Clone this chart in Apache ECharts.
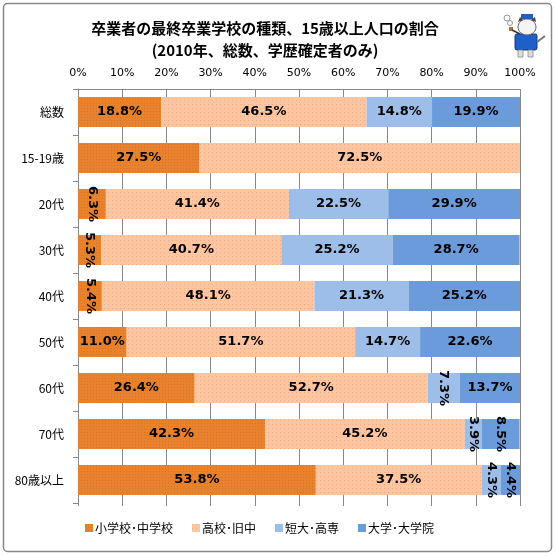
<!DOCTYPE html>
<html>
<head>
<meta charset="utf-8">
<script src="https://cdn.jsdelivr.net/npm/echarts@6/dist/echarts.min.js"></script>
<style>html,body{margin:0;padding:0;background:#fff}#c{width:556px;height:556px}</style>
</head>
<body>
<div id="c"></div>
<script>
var categories = ['総数', '15-19歳', '20代', '30代', '40代', '50代', '60代', '70代', '80歳以上'];
var seriesNames = ['小学校･中学校', '高校･旧中', '短大･高専', '大学･大学院'];
var elementary = [18.8, 27.5, 6.3, 5.3, 5.4, 11.0, 26.4, 42.3, 53.8];
var highSchool = [46.5, 72.5, 41.4, 40.7, 48.1, 51.7, 52.7, 45.2, 37.5];
var juniorCollege = [14.8, 0, 22.5, 25.2, 21.3, 14.7, 7.3, 3.9, 4.3];
var university = [19.9, 0, 29.9, 28.7, 25.2, 22.6, 13.7, 8.5, 4.4];
var tickValues = [0, 10, 20, 30, 40, 50, 60, 70, 80, 90, 100];

var colors = ['#E9822D', '#FEC6A0', '#9DBEE8', '#6B9BDB'];
var decals = [
  {symbol: 'rect', symbolSize: 1, dashArrayX: [1, 2], dashArrayY: [1, 2], color: 'rgba(190,90,20,0.35)'},
  {symbol: 'rect', symbolSize: 1, dashArrayX: [1, 3], dashArrayY: [1, 3], color: 'rgba(220,140,100,0.45)'},
  null, null
];
var seriesData = [elementary, highSchool, juniorCollege, university];

function buildData(arr) {
  return arr.map(function (v) {
    if (!v) return {value: 0, label: {show: false}};
    if (v < 9) return {value: v, label: {show: true, rotate: -90}};
    return {value: v};
  });
}

var chart = echarts.init(document.getElementById('c'), null, {renderer: 'canvas'});
var series = seriesData.map(function (arr, i) {
  var s = {
    name: seriesNames[i],
    type: 'bar',
    stack: 'total',
    barCategoryGap: '35%',
    data: buildData(arr),
    itemStyle: {color: colors[i]},
    label: {
      show: true,
      position: 'inside',
      formatter: function (p) { return p.value.toFixed(1) + '%'; },
      color: '#000',
      fontWeight: 'bold',
      fontSize: 13,
      fontFamily: 'DejaVu Sans'
    }
  };
  if (decals[i]) s.itemStyle.decal = decals[i];
  return s;
});

chart.setOption({
  animation: false,
  backgroundColor: '#fff',
  title: {
    text: '卒業者の最終卒業学校の種類、15歳以上人口の割合\n(2010年、総数、学歴確定者のみ)',
    left: 260,
    textAlign: 'center',
    top: 12,
    textStyle: {fontSize: 15, fontWeight: 'bold', color: '#000', fontFamily: 'Noto Sans CJK JP', lineHeight: 22}
  },
  legend: {
    bottom: 17,
    left: 80,
    itemWidth: 8,
    itemHeight: 8,
    itemGap: 19,
    icon: 'rect',
    textStyle: {fontSize: 12, color: '#000', fontFamily: 'Noto Sans CJK JP', padding: [0, 0, 0, -3]},
    data: seriesNames
  },
  grid: {left: 78, right: 36, top: 89, bottom: 53},
  xAxis: [{
    type: 'value',
    position: 'top',
    min: 0, max: 100, interval: 10,
    axisLabel: {formatter: function (v) { return tickValues.indexOf(v) >= 0 ? v + '%' : ''; }, color: '#000', fontSize: 11, fontFamily: 'DejaVu Sans', margin: 10},
    axisLine: {show: true, lineStyle: {color: '#888'}},
    axisTick: {show: false},
    splitLine: {show: true, lineStyle: {color: '#888', width: 1}}
  }, {
    type: 'value',
    position: 'bottom',
    min: 0, max: 100, interval: 10,
    axisLabel: {show: false},
    axisLine: {show: false},
    axisTick: {show: true, length: 3, lineStyle: {color: '#888'}},
    splitLine: {show: false}
  }],
  yAxis: {
    type: 'category',
    inverse: true,
    data: categories,
    axisLine: {show: true, lineStyle: {color: '#888'}},
    axisTick: {show: true, length: 5, lineStyle: {color: '#888'}},
    axisLabel: {color: '#000', fontSize: 12, fontFamily: 'Noto Sans CJK JP', margin: 14}
  },
  graphic: [{
    type: 'rect',
    shape: {x: 3.5, y: 3.5, width: 548, height: 548, r: 4},
    style: {fill: 'none', stroke: '#888', lineWidth: 1.5},
    silent: true,
    z: -1
  }, {
    type: 'group',
    silent: true,
    children: [
      {type: 'circle', shape: {cx: 507, cy: 18, r: 3}, style: {fill: 'none', stroke: '#999', lineWidth: 1}},
      {type: 'circle', shape: {cx: 510, cy: 23, r: 2.5}, style: {fill: 'none', stroke: '#999', lineWidth: 1}},
      {type: 'rect', shape: {x: 509, y: 27, width: 4, height: 4}, style: {fill: '#b07030'}},
      {type: 'line', shape: {x1: 512, y1: 30, x2: 520, y2: 34}, style: {stroke: '#333', lineWidth: 1.5}},
      {type: 'rect', shape: {x: 515, y: 34, width: 22, height: 16, r: 2}, style: {fill: '#1f5fc8', stroke: '#123a80', lineWidth: 1}},
      {type: 'ellipse', shape: {cx: 527, cy: 27, rx: 9, ry: 8}, style: {fill: '#f4f4f4', stroke: '#666', lineWidth: 1}},
      {type: 'rect', shape: {x: 521, y: 14, width: 12, height: 5}, style: {fill: '#1f5fc8'}},
      {type: 'polygon', shape: {points: [[518, 22], [520, 17], [523, 20]]}, style: {fill: '#444'}},
      {type: 'polygon', shape: {points: [[531, 20], [535, 17], [536, 22]]}, style: {fill: '#444'}},
      {type: 'rect', shape: {x: 518, y: 50, width: 5, height: 7}, style: {fill: '#ddd', stroke: '#888', lineWidth: 0.8}},
      {type: 'rect', shape: {x: 528, y: 50, width: 5, height: 7}, style: {fill: '#ddd', stroke: '#888', lineWidth: 0.8}},
      {type: 'line', shape: {x1: 537, y1: 42, x2: 545, y2: 36}, style: {stroke: '#777', lineWidth: 2}}
    ]
  }],
  series: series
});
</script>
</body>
</html>
